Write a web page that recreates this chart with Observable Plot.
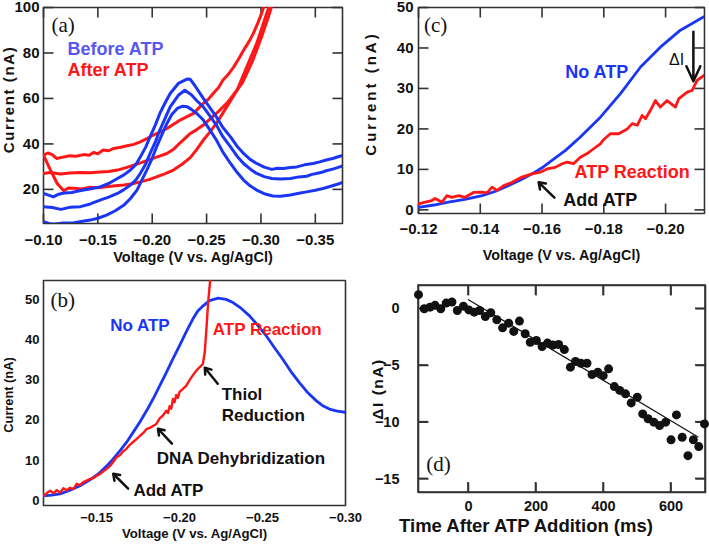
<!DOCTYPE html>
<html><head><meta charset="utf-8">
<script src="https://cdn.jsdelivr.net/npm/d3@7"></script>
<script src="https://cdn.jsdelivr.net/npm/@observablehq/plot@0.6"></script>
<style>
html,body{margin:0;padding:0;background:#fff;overflow:hidden;}
#wrap{position:relative;width:709px;height:550px;background:#fff;}
#wrap > div{position:absolute;}
#wrap svg{display:block;}
</style></head><body><div id="wrap"></div>
<script>
// ---------- Panel (a): voltage (V), current (nA) ----------
const aBefore1 = [[-0.100,18.2],[-0.104,17.6],[-0.109,16.7],[-0.114,17.9],[-0.119,18.4],[-0.126,18.6],[-0.132,19.3],[-0.137,19.7],[-0.145,20.4],[-0.152,21.1],[-0.160,22.6],[-0.168,24.8],[-0.174,26.4],[-0.180,28.5],[-0.185,31.0],[-0.189,34.3],[-0.194,38.6],[-0.198,43.1],[-0.203,48.5],[-0.207,53.4],[-0.212,58.2],[-0.2165,62.2],[-0.224,66.6],[-0.232,68.5],[-0.235,68.4],[-0.239,65.8],[-0.247,60.0],[-0.253,56.0],[-0.259,51.9],[-0.265,47.2],[-0.272,43.1],[-0.278,39.0],[-0.284,35.8],[-0.290,33.2],[-0.296,31.4],[-0.303,29.8],[-0.310,28.8],[-0.315,29.3],[-0.3205,29.2],[-0.327,29.6],[-0.333,29.9],[-0.340,30.8],[-0.348,31.4],[-0.354,32.1],[-0.360,32.9],[-0.366,33.6],[-0.3725,34.6],[-0.375,34.9]];
const aBefore2 = [[-0.100,12.4],[-0.108,12.0],[-0.116,11.2],[-0.124,12.1],[-0.134,12.4],[-0.143,13.6],[-0.152,15.3],[-0.160,16.6],[-0.168,18.2],[-0.174,19.9],[-0.180,21.9],[-0.185,24.2],[-0.189,27.0],[-0.194,31.2],[-0.198,35.8],[-0.203,41.0],[-0.207,46.1],[-0.212,51.5],[-0.2165,56.3],[-0.224,61.4],[-0.230,63.6],[-0.236,61.6],[-0.241,59.0],[-0.247,56.3],[-0.253,52.3],[-0.259,48.3],[-0.265,43.2],[-0.272,38.7],[-0.278,34.6],[-0.284,31.4],[-0.290,29.0],[-0.296,27.0],[-0.303,25.6],[-0.310,24.8],[-0.318,24.6],[-0.327,24.8],[-0.335,25.5],[-0.342,25.8],[-0.347,26.6],[-0.351,27.0],[-0.356,27.5],[-0.360,28.2],[-0.366,28.9],[-0.3725,29.9],[-0.375,30.3]];
const aBefore3 = [[-0.100,5.8],[-0.105,5.0],[-0.109,4.7],[-0.118,5.2],[-0.128,5.3],[-0.136,6.0],[-0.143,6.5],[-0.150,7.3],[-0.158,8.7],[-0.166,10.6],[-0.174,13.1],[-0.180,16.0],[-0.186,19.7],[-0.190,23.6],[-0.195,28.5],[-0.200,33.8],[-0.204,38.7],[-0.209,44.2],[-0.2135,49.0],[-0.218,52.9],[-0.223,55.6],[-0.228,56.6],[-0.232,56.4],[-0.236,55.2],[-0.241,53.4],[-0.247,50.5],[-0.253,46.2],[-0.259,41.7],[-0.265,36.4],[-0.272,31.4],[-0.278,27.5],[-0.284,24.1],[-0.290,21.6],[-0.296,19.7],[-0.303,18.1],[-0.311,17.1],[-0.318,17.0],[-0.327,17.5],[-0.335,18.3],[-0.342,18.9],[-0.350,19.6],[-0.357,20.4],[-0.365,21.5],[-0.3725,22.6],[-0.375,23.1]];
const aAfter1 = [[-0.100,35.1],[-0.104,36.0],[-0.108,35.3],[-0.112,33.6],[-0.118,34.2],[-0.124,34.8],[-0.130,34.6],[-0.137,35.3],[-0.142,35.0],[-0.146,36.2],[-0.150,35.7],[-0.155,37.3],[-0.160,37.0],[-0.1645,38.0],[-0.171,38.5],[-0.177,39.2],[-0.183,39.8],[-0.189,40.9],[-0.195,42.3],[-0.201,43.9],[-0.207,45.2],[-0.2135,46.8],[-0.220,48.8],[-0.2257,50.5],[-0.232,52.0],[-0.238,53.4],[-0.242,55.4],[-0.247,57.8],[-0.252,59.8],[-0.256,62.2],[-0.261,64.8],[-0.265,68.0],[-0.270,70.6],[-0.275,73.9],[-0.280,77.8],[-0.284,81.2],[-0.289,85.0],[-0.293,88.6],[-0.297,93.0],[-0.3006,97.4],[-0.303,101]];
const aAfter2 = [[-0.100,27.0],[-0.106,27.4],[-0.1156,26.8],[-0.124,27.2],[-0.134,27.4],[-0.143,27.3],[-0.152,27.7],[-0.160,27.9],[-0.168,28.5],[-0.176,29.6],[-0.183,30.7],[-0.190,31.8],[-0.198,33.2],[-0.206,34.5],[-0.2135,35.8],[-0.220,37.8],[-0.2257,40.5],[-0.235,44.6],[-0.241,46.3],[-0.247,48.3],[-0.253,50.9],[-0.259,53.4],[-0.2685,57.8],[-0.278,63.6],[-0.283,67.0],[-0.287,71.0],[-0.292,76.2],[-0.296,81.2],[-0.300,86.4],[-0.3037,91.5],[-0.307,96.0],[-0.310,101]];
const aAfter3 = [[-0.100,35.1],[-0.1064,28.5],[-0.1126,22.6],[-0.1186,19.4],[-0.123,20.6],[-0.128,20.5],[-0.135,20.2],[-0.143,20.9],[-0.150,20.7],[-0.158,21.2],[-0.166,21.6],[-0.174,21.9],[-0.182,22.5],[-0.189,23.3],[-0.197,24.3],[-0.204,25.5],[-0.212,26.9],[-0.2195,28.5],[-0.227,30.9],[-0.235,34.0],[-0.241,37.6],[-0.247,41.7],[-0.253,45.2],[-0.259,49.0],[-0.2685,56.3],[-0.278,63.6],[-0.287,73.9],[-0.296,84.1],[-0.3053,97.4],[-0.308,101]];
const aXTicks = [-0.10, -0.15, -0.20, -0.25, -0.30, -0.35];
const aYTicks = [20, 40, 60, 80, 100];

// ---------- Panel (b) ----------
const bNoATP = [[-0.118,1.2],[-0.123,1.4],[-0.128,1.7],[-0.134,2.6],[-0.140,3.7],[-0.146,5.2],[-0.152,7.0],[-0.156,8.6],[-0.160,10.4],[-0.164,12.4],[-0.168,14.5],[-0.172,17.0],[-0.176,19.5],[-0.180,22.3],[-0.184,25.3],[-0.188,28.6],[-0.192,31.9],[-0.196,35.3],[-0.200,38.6],[-0.204,42.0],[-0.208,45.2],[-0.211,47.2],[-0.2142,48.5],[-0.218,49.8],[-0.2232,50.4],[-0.228,50.1],[-0.2322,49.3],[-0.237,47.9],[-0.2422,46.0],[-0.247,43.7],[-0.2523,41.0],[-0.257,38.2],[-0.2622,35.2],[-0.267,32.2],[-0.2722,29.4],[-0.277,27.0],[-0.2823,24.9],[-0.286,23.7],[-0.2903,22.8],[-0.295,22.3],[-0.300,22.0]];
const bATP = [[-0.118,1.2],[-0.120,1.9],[-0.122,2.5],[-0.124,1.8],[-0.126,2.6],[-0.128,2.0],[-0.130,3.1],[-0.132,2.6],[-0.134,3.2],[-0.136,2.9],[-0.138,4.2],[-0.140,3.9],[-0.142,4.6],[-0.144,5.0],[-0.146,5.4],[-0.148,5.6],[-0.150,6.2],[-0.152,6.6],[-0.154,7.3],[-0.156,7.9],[-0.158,8.6],[-0.160,9.6],[-0.162,10.8],[-0.164,11.3],[-0.166,12.3],[-0.168,12.9],[-0.170,13.9],[-0.172,14.6],[-0.174,15.3],[-0.176,16.1],[-0.178,16.8],[-0.180,17.8],[-0.182,18.1],[-0.184,18.6],[-0.186,19.1],[-0.188,20.5],[-0.190,21.2],[-0.192,22.4],[-0.193,21.8],[-0.194,23.5],[-0.195,22.9],[-0.196,25.3],[-0.197,24.5],[-0.198,26.3],[-0.199,25.6],[-0.200,27.1],[-0.202,27.8],[-0.204,28.6],[-0.206,30.0],[-0.208,31.2],[-0.210,32.3],[-0.212,33.2],[-0.214,34.0],[-0.2152,37.0],[-0.2163,43.5],[-0.2172,49.3],[-0.2187,56]];
const bXTicks = [-0.15, -0.20, -0.25, -0.30];
const bYTicks = [0, 10, 20, 30, 40, 50];

// ---------- Panel (c) ----------
const cNoATP = [[-0.120,0.6],[-0.125,1.2],[-0.1297,1.9],[-0.135,2.6],[-0.1406,3.5],[-0.145,4.6],[-0.1492,6.0],[-0.153,7.4],[-0.1568,8.9],[-0.160,10.4],[-0.1632,12.2],[-0.1676,14.7],[-0.1724,18.0],[-0.1789,22.9],[-0.1854,28.7],[-0.1919,35.3],[-0.1983,40.2],[-0.2048,44.4],[-0.2124,47.7]];
const cATP = [[-0.120,1.5],[-0.1222,1.9],[-0.1243,2.3],[-0.1254,2.8],[-0.1276,1.9],[-0.1292,3.5],[-0.1308,3.1],[-0.133,3.5],[-0.1351,3.1],[-0.1378,4.3],[-0.1406,4.4],[-0.1422,4.2],[-0.1438,5.6],[-0.1454,4.8],[-0.1476,6.0],[-0.1503,6.8],[-0.1535,8.1],[-0.1568,8.9],[-0.1594,9.3],[-0.1616,10.1],[-0.1643,10.5],[-0.1665,11.4],[-0.1681,11.8],[-0.1702,11.4],[-0.1724,13.0],[-0.1746,13.9],[-0.1767,15.1],[-0.1789,16.3],[-0.1800,17.4],[-0.1821,18.8],[-0.1848,18.8],[-0.1876,20.0],[-0.1892,21.3],[-0.1908,20.9],[-0.1924,23.3],[-0.1935,22.5],[-0.1951,24.6],[-0.1967,27.0],[-0.1983,25.4],[-0.2005,27.0],[-0.2032,25.4],[-0.2043,27.5],[-0.207,29.1],[-0.2086,29.5],[-0.2102,32.0],[-0.2124,33.2]];
const cXTicks = [-0.12, -0.14, -0.16, -0.18, -0.20];
const cYTicks = [0, 10, 20, 30, 40, 50];

// ---------- Panel (d) ----------
const dTime = [-148,-131,-114,-99,-82,-66,-49,-33,-15,1,17,33,50,66,84,101,119,134,151,168,183,201,218,234,250,267,284,302,317,333,351,366,383,399,415,432,448,465,482,500,516,532,549,566,584,600,616,633,650,666,682,699];
const dDeltaI = [1.24,0,0.14,0.3,0,0.5,0.6,-0.15,0.23,-0.1,-0.3,-0.15,-0.68,-0.35,-0.97,-1.68,-1.27,-2,-1.09,-2.2,-2.95,-2.8,-3.33,-3.03,-3.2,-3.15,-3.6,-5.15,-4.65,-4.8,-4.8,-5.8,-5.6,-5.9,-5.3,-6.86,-7.2,-7.5,-8.3,-7.8,-9.27,-9.7,-10,-10.3,-10,-11.56,-9.36,-11.33,-12.95,-11.56,-12.15,-10.15];
const dFitTime = [0, 680];
const dFitDeltaI = [0.8, -11.3];
const dXTicks = [0, 200, 400, 600];
const dYTicks = [0, -5, -10, -15];

// ---------- styling ----------
const BLUE = "#1a36f4", RED = "#ff1616", LBLUE = "#5858ee", INK = "#111", FRAME = "#333";
const SANS = "'Liberation Sans', Arial, sans-serif";
const SERIF = "'Liberation Serif', 'Times New Roman', serif";
const fmtV = d => (d < 0 ? "\u2212" : "") + Math.abs(d).toFixed(2);
const fmtI = d => (d < 0 ? "\u2212" : "") + Math.abs(d);

// frame and inward ticks as stroked line / link marks in data space
function frameAndTicks(c) {
  const [x0, x1] = c.xDomain, [y0, y1] = c.yDomain;
  const pw = c.width - c.m[1] - c.m[3], ph = c.height - c.m[0] - c.m[2];
  const kx = (x1 - x0) / pw * c.tickLen, ky = (y1 - y0) / ph * c.tickLen;
  const s = {stroke: FRAME, strokeWidth: 1.6};
  const marks = [];
  if (c.tickLen) {
    marks.push(
      Plot.link(c.xTicks, {...s, x1: d => d, x2: d => d, y1: y0, y2: y0 + ky}),
      Plot.link(c.xTicks, {...s, x1: d => d, x2: d => d, y1: y1, y2: y1 - ky}),
      Plot.link(c.yTicks, {...s, y1: d => d, y2: d => d, x1: x0, x2: x0 + kx}),
      Plot.link(c.yTicks, {...s, y1: d => d, y2: d => d, x1: x1, x2: x1 - kx})
    );
  }
  const corners = [[x0, y0], [x1, y0], [x1, y1], [x0, y1], [x0, y0]];
  marks.push(Plot.line(corners, {x: d => d[0], y: d => d[1], ...s}));
  return marks;
}

// same frame and ticks as thin filled rects (used for panel d)
function frameRects(c) {
  const [x0, x1] = c.xDomain, [y0, y1] = c.yDomain;
  const pw = c.width - c.m[1] - c.m[3], ph = c.height - c.m[0] - c.m[2];
  const ux = (x1 - x0) / pw, uy = (y1 - y0) / ph, h = 0.8, L = c.tickLen;
  const f = {fill: FRAME, inset: 0};
  return [
    Plot.rect(c.xTicks, {...f, x1: d => d - h * ux, x2: d => d + h * ux, y1: y0, y2: y0 + L * uy}),
    Plot.rect(c.xTicks, {...f, x1: d => d - h * ux, x2: d => d + h * ux, y1: y1 - L * uy, y2: y1}),
    Plot.rect(c.yTicks, {...f, y1: d => d - h * uy, y2: d => d + h * uy, x1: x0, x2: x0 + L * ux}),
    Plot.rect(c.yTicks, {...f, y1: d => d - h * uy, y2: d => d + h * uy, x1: x1 - L * ux, x2: x1}),
    Plot.rect([[x0 - h * ux, x1 + h * ux, y0 - h * uy, y0 + h * uy], [x0 - h * ux, x1 + h * ux, y1 - h * uy, y1 + h * uy],
               [x0 - h * ux, x0 + h * ux, y0, y1], [x1 - h * ux, x1 + h * ux, y0, y1]],
      {...f, x1: d => d[0], x2: d => d[1], y1: d => d[2], y2: d => d[3]})
  ];
}

function panel(c) {
  const marks = [
    Plot.axisX({ticks: c.xTicks, tickSize: 0, tickPadding: c.xPad, tickFormat: c.xFmt, fontSize: c.tickFont, label: null}),
    Plot.axisY({ticks: c.yTicks, tickSize: 0, tickPadding: c.yPad, tickFormat: c.yFmt, fontSize: c.tickFont, label: null}),
    ...frameAndTicks(c),
    ...(c.rectFrame ? frameRects(c) : []),
    ...c.marks,
    Plot.text([c.xLabel], {text: d => d, frameAnchor: "bottom", dy: c.xLabelDy, dx: c.xLabelDx || 0, fontSize: c.labelFont, fontWeight: "bold", fill: INK}),
    Plot.text([c.yLabel], {text: d => d, frameAnchor: "left", rotate: -90, dx: c.yLabelDx, dy: c.yLabelDy || 0, textAnchor: "middle", lineAnchor: "middle", fontSize: c.yLabelFont, fontWeight: "bold", fill: INK})
  ];
  const svg = Plot.plot({
    width: c.width, height: c.height,
    marginTop: c.m[0], marginRight: c.m[1], marginBottom: c.m[2], marginLeft: c.m[3],
    x: {domain: c.xDomain}, y: {domain: c.yDomain},
    style: {fontFamily: SANS, fontSize: "15px", fontWeight: "bold", color: INK, background: "transparent", maxWidth: "none", overflow: "visible"},
    marks
  });
  if (c.yLabelSpacing) {
    d3.select(svg).selectAll("text").filter(function() { return this.textContent === c.yLabel; })
      .attr("letter-spacing", c.yLabelSpacing + "px");
  }
  const div = document.createElement("div");
  div.style.left = c.left + "px"; div.style.top = c.top + "px";
  div.style.width = c.width + "px"; div.style.height = c.height + "px";
  div.appendChild(svg);
  document.getElementById("wrap").appendChild(div);
}

const P = (arr, o) => Plot.line(arr, {x: d => d[0], y: d => d[1], clip: true, ...o});

// (a)
panel({
  left: 0, top: 0, width: 355, height: 270, m: [7, 13, 47, 43],
  xDomain: [-0.10, -0.375], yDomain: [5, 100],
  xTicks: aXTicks, yTicks: aYTicks, xFmt: fmtV, yFmt: fmtI,
  xPad: 11, yPad: 4, tickFont: 15, tickLen: 10,
  xLabel: "Voltage (V vs. Ag/AgCl)", xLabelDy: 38, labelFont: 14.5,
  yLabel: "Current (nA)", yLabelDx: -34, yLabelDy: -16, yLabelFont: 15, yLabelSpacing: 1.6,
  marks: [
    P(aAfter1, {stroke: RED, strokeWidth: 3}),
    P(aAfter2, {stroke: RED, strokeWidth: 3}),
    P(aAfter3, {stroke: RED, strokeWidth: 3}),
    P(aBefore1, {stroke: BLUE, strokeWidth: 3}),
    P(aBefore2, {stroke: BLUE, strokeWidth: 3}),
    P(aBefore3, {stroke: BLUE, strokeWidth: 3}),
    Plot.text(["(a)"], {x: -0.1073, y: 92.2, text: d => d, textAnchor: "start", fontFamily: SERIF, fontWeight: "normal", fontSize: 21, fill: INK}),
    Plot.text(["Before ATP"], {x: -0.122, y: 81.7, text: d => d, textAnchor: "start", fontSize: 18, fill: LBLUE}),
    Plot.text(["After ATP"], {x: -0.122, y: 72.4, text: d => d, textAnchor: "start", fontSize: 18, fill: RED})
  ]
});

// (c)
panel({
  left: 355, top: 0, width: 352, height: 270, m: [7, 3, 57, 63],
  xDomain: [-0.12, -0.2126], yDomain: [-0.9, 50],
  xTicks: cXTicks, yTicks: cYTicks, xFmt: fmtV, yFmt: fmtI,
  xPad: 10, yPad: 5, tickFont: 15, tickLen: 10,
  xLabel: "Voltage (V vs. Ag/AgCl)", xLabelDy: 46.5, labelFont: 14.3,
  yLabel: "Current (nA)", yLabelDx: -47, yLabelDy: -17, yLabelFont: 15, yLabelSpacing: 3,
  marks: [
    P(cNoATP, {stroke: BLUE, strokeWidth: 2.8}),
    P(cATP, {stroke: RED, strokeWidth: 2.8}),
    Plot.text(["(c)"], {x: -0.1218, y: 45.6, text: d => d, textAnchor: "start", fontFamily: SERIF, fontWeight: "normal", fontSize: 21, fill: INK}),
    Plot.text(["No ATP"], {x: -0.1675, y: 34, text: d => d, textAnchor: "start", fontSize: 18, fill: BLUE}),
    Plot.text(["ATP Reaction"], {x: -0.1705, y: 9.2, text: d => d, textAnchor: "start", fontSize: 18, fill: RED}),
    Plot.text(["Add ATP"], {x: -0.1669, y: 2.3, text: d => d, textAnchor: "start", fontSize: 18, fill: INK}),
    Plot.text(["\u0394I"], {x: -0.2060, y: 37, text: d => d, textAnchor: "end", fontSize: 16, fontWeight: "normal", fill: INK}),
    Plot.arrow([{x1: -0.1640, y1: 3.0, x2: -0.1589, y2: 6.8}], {x1: "x1", y1: "y1", x2: "x2", y2: "y2", stroke: INK, strokeWidth: 2.5, headLength: 9, headAngle: 70}),
    Plot.arrow([{x1: -0.2090, y1: 44.0, x2: -0.2090, y2: 31.8}], {x1: "x1", y1: "y1", x2: "x2", y2: "y2", stroke: INK, strokeWidth: 2.5, headLength: 11, headAngle: 50})
  ]
});

// (b)
panel({
  left: 0, top: 270, width: 355, height: 278, m: [10, 10, 43, 43],
  xDomain: [-0.118, -0.30], yDomain: [-1.2, 54.8],
  xTicks: bXTicks, yTicks: bYTicks, xFmt: fmtV, yFmt: fmtI,
  xPad: 7, yPad: 4, tickFont: 13, tickLen: 0,
  xLabel: "Voltage (V vs. Ag/AgCl)", xLabelDy: 32.5, labelFont: 13.2,
  yLabel: "Current (nA)", yLabelDx: -35, yLabelDy: 2, yLabelFont: 12.8,
  marks: [
    P(bNoATP, {stroke: BLUE, strokeWidth: 2.8}),
    P(bATP, {stroke: RED, strokeWidth: 2.4}),
    Plot.text(["(b)"], {x: -0.1222, y: 49.8, text: d => d, textAnchor: "start", fontFamily: SERIF, fontWeight: "normal", fontSize: 21, fill: INK}),
    Plot.text(["No ATP"], {x: -0.1582, y: 43.5, text: d => d, textAnchor: "start", fontSize: 17, fill: BLUE}),
    Plot.text(["ATP Reaction"], {x: -0.220, y: 42.5, text: d => d, textAnchor: "start", fontSize: 17, fill: RED}),
    Plot.text(["Thiol"], {x: -0.2254, y: 26.5, text: d => d, textAnchor: "start", fontSize: 17, fill: INK}),
    Plot.text(["Reduction"], {x: -0.2254, y: 21.1, text: d => d, textAnchor: "start", fontSize: 17, fill: INK}),
    Plot.text(["DNA Dehybridization"], {x: -0.1862, y: 10.5, text: d => d, textAnchor: "start", fontSize: 17, fill: INK}),
    Plot.text(["Add ATP"], {x: -0.1722, y: 2.5, text: d => d, textAnchor: "start", fontSize: 17, fill: INK}),
    Plot.arrow([
      {x1: -0.2230, y1: 29.1, x2: -0.2152, y2: 33.1},
      {x1: -0.1954, y1: 14.2, x2: -0.1870, y2: 17.9},
      {x1: -0.1690, y1: 3.0, x2: -0.1600, y2: 6.7}
    ], {x1: "x1", y1: "y1", x2: "x2", y2: "y2", stroke: INK, strokeWidth: 2.5, headLength: 9, headAngle: 70})
  ]
});

// (d)
const dPoints = dTime.map((t, i) => ({t, v: dDeltaI[i]}));
const dFit = dFitTime.map((t, i) => ({t, v: dFitDeltaI[i]}));
panel({
  left: 355, top: 270, width: 352, height: 278, m: [15, 2, 56, 63],
  xDomain: [-148, 702], yDomain: [-16.2, 2.05],
  xTicks: dXTicks, yTicks: dYTicks, xFmt: d => String(d), yFmt: fmtI,
  xPad: 8, yPad: 19, tickFont: 14.5, tickLen: 10, rectFrame: true,
  xLabel: "Time After ATP Addition (ms)", xLabelDy: 39, xLabelDx: -36, labelFont: 18.5,
  yLabel: "\u0394I (nA)", yLabelDx: -40, yLabelDy: 0, yLabelFont: 15.5, yLabelSpacing: 1.5,
  marks: [
    Plot.line(dFit, {x: "t", y: "v", stroke: INK, strokeWidth: 1.2}),
    Plot.dot(dPoints, {x: "t", y: "v", r: 4.5, fill: INK, stroke: "none"}),
    Plot.text(["(d)"], {x: -125, y: -13.7, text: d => d, textAnchor: "start", fontFamily: SERIF, fontWeight: "normal", fontSize: 21, fill: INK})
  ]
});
</script>
</body></html>
